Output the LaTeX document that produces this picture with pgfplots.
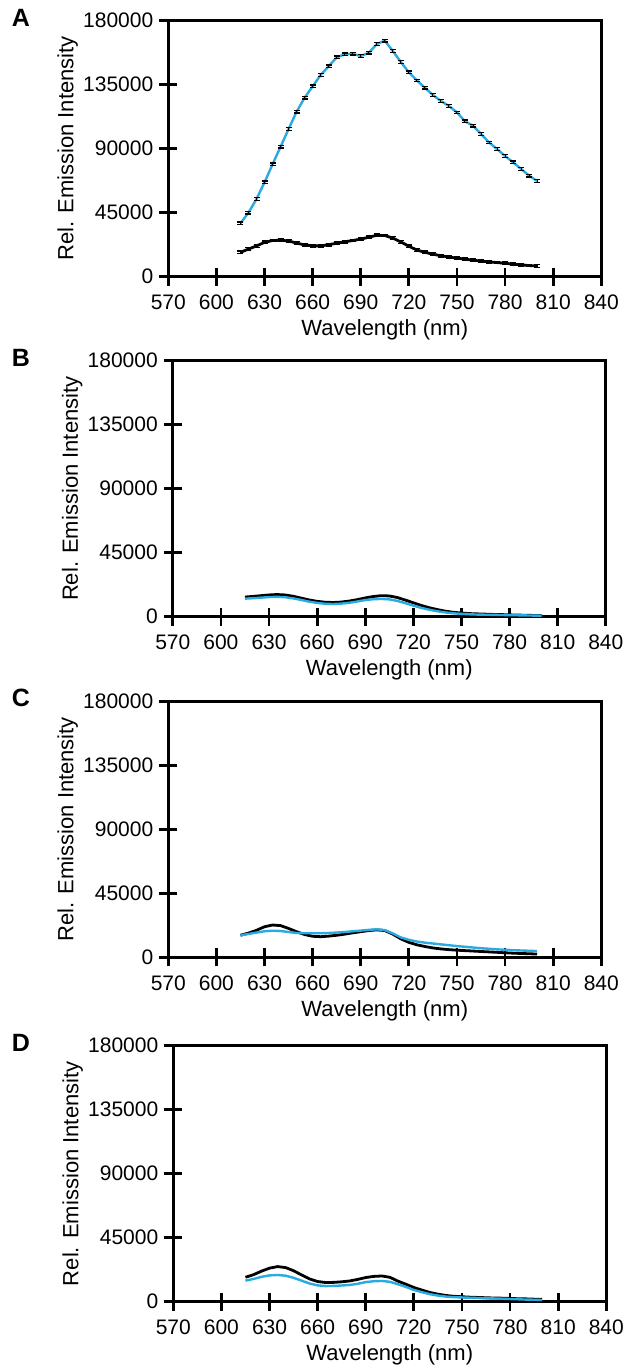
\documentclass[border=0pt]{standalone}
\usepackage{pgfplots}
\usepackage{pgfplotstable}
\pgfplotsset{compat=1.18}
\usepackage{fontspec}
\setmainfont{Liberation Sans}
\definecolor{cblue}{RGB}{41,171,226}

% columns: wavelength, black series, blue series, error
\pgfplotstableread{
x   blk    blu    e
615 17000  37400  900
620 19300  44900  900
625 21500  54500  900
630 24000  66200  900
635 25300  78900  900
640 25500  91200  900
645 25000  103700 900
650 23500  115900 900
655 22200  125700 900
660 21600  133700 900
665 21500  141700 900
670 22400  147800 900
675 23400  154100 900
680 24400  156200 900
685 25300  156600 900
690 26300  155000 900
695 27600  157300 900
700 29000  163400 900
705 28800  165800 900
710 27000  158500 900
715 24300  150800 900
720 21300  143600 900
725 18600  137900 900
730 17000  132700 900
735 15700  127600 900
740 14600  123400 900
745 13700  119900 900
750 12900  115400 900
755 12200  109100 900
760 11500  106000 900
765 10800  100200 900
770 10300  94300  900
775 9800   89600  900
780 9300   84700  900
785 8700   80300  900
790 8200   75600  900
795 7700   70900  900
800 7400   67100  900
}\dataA

\pgfplotstableread{
x   blk    blu
615 13800  12700
620 14300  13000
625 14800  13400
630 15300  13800
635 15600  14000
640 15300  13700
645 14400  12900
650 13100  11800
655 11800  10600
660 10800  9700
665 10200  9100
670 10000  8900
675 10300  9200
680 11000  9800
685 12000  10700
690 13200  11700
695 14200  12300
700 14800  12500
705 14600  12200
710 13500  11100
715 11700  9500
720 9800   7800
725 7900   6200
730 6300   4900
735 5000   3800
740 3900   3000
745 3100   2400
750 2600   2000
755 2200   1700
760 2000   1500
765 1800   1400
770 1600   1300
775 1500   1200
780 1300   1100
785 1200   1000
790 1000   900
795 900    800
800 800    700
}\dataB

\pgfplotstableread{
x   blk    blu
615 15500  15500
620 17000  16400
625 19000  17400
630 21500  18300
635 22700  18700
640 22300  18500
645 20300  17800
650 18000  17100
655 16000  16900
660 14800  16900
665 14500  16900
670 14900  17100
675 15500  17400
680 16300  17800
685 17200  18300
690 18000  18800
695 18800  19300
700 19300  19700
705 18800  19100
710 16300  16800
715 13000  14000
720 10500  12300
725 8800   11100
730 7600   10300
735 6600   9700
740 5900   9100
745 5400   8500
750 5000   7900
755 4700   7400
760 4400   6900
765 4100   6400
770 3800   6000
775 3500   5600
780 3200   5300
785 2900   5000
790 2700   4800
795 2500   4600
800 2300   4400
}\dataC

\pgfplotstableread{
x   blk    blu
615 17200  14800
620 19000  16000
625 21500  17500
630 23600  18500
635 24700  18800
640 24000  18300
645 21800  16800
650 18800  14800
655 16000  12800
660 14200  11500
665 13500  11000
670 13600  11100
675 14000  11400
680 14600  11800
685 15700  12600
690 17000  13800
695 17800  14400
700 18100  14600
705 17200  14000
710 14500  12300
715 12300  10400
720 10000  8300
725 8200   6700
730 6500   5300
735 5300   4300
740 4400   3600
745 3800   3200
750 3500   3000
755 3200   2800
760 3000   2600
765 2800   2400
770 2600   2300
775 2500   2100
780 2300   1900
785 2100   1700
790 2000   1500
795 1800   1400
800 1700   1200
}\dataD

\pgfplotsset{
  panel/.style={
    scale only axis, width=216.5pt, height=128pt,
    anchor=south west,
    xmin=570, xmax=840, ymin=0, ymax=180000,
    xtick={570,600,...,840},
    ytick={0,45000,90000,135000,180000},
    tick pos=left, tick align=center,
    major tick length=9pt,
    line width=1.4pt,
    major tick style={line width=1.4pt, black},
    scaled y ticks=false,
    /pgf/number format/assume math mode=true,
    /pgf/number format/fixed,
    /pgf/number format/1000 sep={},
    tick label style={font=\fontsize{10.5}{12}\selectfont},
    yticklabel style={xshift=1pt},
    xticklabel style={anchor=base, yshift=-12pt},
    label style={font=\fontsize{11}{13}\selectfont},
    xlabel={Wavelength (nm)},
    ylabel={Rel. Emission Intensity},
    xlabel style={at={(axis description cs:0.5,0)}, anchor=base, yshift=-29.5pt},
    ylabel style={at={(axis description cs:0,0.5)}, anchor=base, yshift=47.5pt},
  },
  blk/.style={black, line width=1.4pt, no marks},
  blu/.style={cblue, line width=1.2pt, no marks},
}

\begin{document}
\begin{tikzpicture}
\useasboundingbox (0,0) rectangle (313pt,-685.5pt);

\begin{axis}[panel, at={(84.15pt,-138.25pt)}]
\addplot[blk, error bars/.cd, y dir=both, y explicit,
  error bar style={black, line width=0.5pt},
  error mark options={rotate=90, mark size=1.5pt, black, line width=0.6pt}]
  table[x=x, y=blk, y error=e] {\dataA};
\addplot[blu, error bars/.cd, y dir=both, y explicit,
  error bar style={black, line width=0.5pt},
  error mark options={rotate=90, mark size=1.5pt, black, line width=0.6pt}]
  table[x=x, y=blu, y error=e] {\dataA};
\end{axis}

\begin{axis}[panel, at={(86.4pt,-308.35pt)}]
\addplot[blk] table[x=x, y=blk] {\dataB};
\addplot[blu] table[x=x, y=blu] {\dataB};
\end{axis}

\begin{axis}[panel, at={(84.15pt,-478.65pt)}]
\addplot[blk] table[x=x, y=blk] {\dataC};
\addplot[blu] table[x=x, y=blu] {\dataC};
\end{axis}

\begin{axis}[panel, at={(86.65pt,-650.85pt)}]
\addplot[blk] table[x=x, y=blk] {\dataD};
\addplot[blu] table[x=x, y=blu] {\dataD};
\end{axis}

\node[font=\bfseries\fontsize{12.5}{14}\selectfont] at (10.5pt,-8.75pt) {A};
\node[font=\bfseries\fontsize{12.5}{14}\selectfont] at (10.5pt,-178.85pt) {B};
\node[font=\bfseries\fontsize{12.5}{14}\selectfont] at (10.5pt,-349pt) {C};
\node[font=\bfseries\fontsize{12.5}{14}\selectfont] at (10.5pt,-521.35pt) {D};
\end{tikzpicture}
\end{document}
